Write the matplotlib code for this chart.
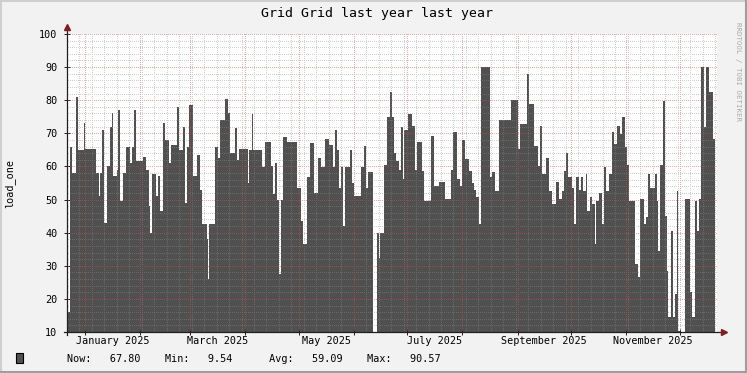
import numpy as np
import matplotlib.pyplot as plt
from matplotlib.lines import Line2D
from matplotlib.patches import Rectangle

# ---------------------------------------------------------------------------
# Data read off the rrdtool "last year" graph (days since 2024-12-22)
# ---------------------------------------------------------------------------
START = np.datetime64("2024-12-22")
SPAN_DAYS = 365.0
END_DAY = 363.8

days = [
    0.0, 1.9, 2.6, 5.3, 6.2, 9.5, 10.3, 16.1, 17.8, 18.5, 19.5, 20.6, 22.3, 23.9,
    25.1, 26.0, 27.9, 28.8, 29.6, 31.4, 33.1, 35.2, 36.3, 37.8, 38.6, 42.8, 44.2,
    45.8, 46.6, 47.5, 50.0, 51.3, 52.4, 53.8, 55.3, 57.2, 58.2, 61.7, 62.9, 65.1,
    66.4, 67.6, 68.7, 70.5, 72.8, 74.7, 75.6, 78.4, 79.2, 79.9, 82.9, 85.0, 86.1,
    89.0, 90.4, 91.5, 94.5, 95.4, 96.8, 101.4, 102.4, 103.7, 104.4, 109.5, 111.0,
    114.8, 115.7, 116.6, 118.0, 119.1, 120.3, 121.2, 123.7, 129.4, 131.2, 132.7,
    134.8, 136.4, 138.8, 140.9, 142.8, 144.7, 146.9, 149.4, 150.3, 151.6, 153.0,
    153.9, 154.9, 155.9, 158.7, 160.2, 161.4, 165.3, 166.6, 167.7, 169.3, 171.6,
    174.0, 175.0, 175.9, 177.8, 179.7, 181.2, 182.5, 183.5, 184.8, 186.6, 187.3,
    188.4, 189.2, 191.5, 193.5, 195.6, 196.5, 199.2, 200.7, 204.5, 206.2, 208.9,
    212.2, 215.7, 216.5, 218.8, 220.5, 221.6, 223.5, 225.7, 227.3, 228.5, 229.7,
    231.4, 232.7, 237.5, 238.8, 240.3, 242.4, 249.2, 253.0, 254.1, 258.5, 259.6,
    262.0, 264.5, 265.4, 266.7, 269.1, 270.4, 272.3, 274.6, 276.3, 277.8, 279.1,
    280.4, 281.4, 283.3, 284.6, 285.9, 287.5, 288.6, 289.7, 291.2, 292.1, 293.7,
    295.0, 296.5, 297.1, 298.7, 300.2, 301.5, 302.8, 304.3, 305.8, 307.1, 309.0,
    310.3, 311.8, 313.2, 314.4, 315.7, 318.9, 320.4, 321.5, 323.8, 325.1, 326.4,
    327.4, 330.2, 331.1, 332.0, 332.9, 334.4, 335.9, 336.7, 337.4, 338.9, 340.1,
    341.2, 342.3, 343.2, 344.1, 347.0, 349.9, 351.2, 352.5, 353.6, 354.9, 356.2,
    357.7, 359.0, 360.5, 362.8,
]
load_one = [
    16, 66, 58, 81, 65, 73, 65.3, 58, 51, 58, 71, 43, 60, 72,
    76, 57, 59, 77, 49.5, 58, 66, 61, 66, 77, 61.5, 63, 59,
    48, 40, 57.7, 51, 57, 46.5, 73, 68, 61, 66.5, 78, 65, 72,
    49, 66, 78.5, 57, 63.5, 53, 42.5, 38, 26, 42.5, 66, 62.5, 74,
    80.5, 76, 64, 71.5, 62, 65.3, 55, 65, 75.8, 65, 59.7, 67.3,
    60, 51.7, 61, 50, 27.5, 50, 68.8, 67.5, 53.6, 43.5, 36.5,
    56.7, 67, 52, 62.7, 59.7, 68.3, 66.5, 59.7, 71, 65, 53.6,
    59.7, 42, 59.7, 65, 55, 51.2, 59.7, 66.2, 53.6, 58.2, np.nan,
    40, 32.5, 40, 60.4, 74.8, 82.4, 75, 64.2, 61.6, 59, 72,
    56.2, 71, 75.8, 72.3, 59, 67.3, 58.7, 49.6, 69.3, 54, 55.2,
    50.1, 59, 70.3, 56.2, 54, 68, 62.2, 58.5, 55, 53, 50.7,
    42.6, 90, 56.7, 58.2, 52.7, 74, 80, 65.3, 72.8, 88, 79,
    66.2, 60, 72.3, 57.7, 62.7, 52.7, 48.6, 55.2, 50.1, 52.7, 58.7,
    64.2, 56.7, 53.6, 42.6, 56.7, 53, 56.7, 52.7, 57.7, 46.6, 50.7,
    48.6, 36.6, 49.6, 52, 42.6, 59.7, 52.7, 57.7, 70.3, 66.8, 72.3,
    69.8, 74.8, 66, 60.4, 49.6, 30.5, 26.5, 50.1, 42.6, 44.6, 57.7,
    53.6, 57.7, 49.6, 34.6, 60.4, 79.9, 45, 28.5, 14.4, 40.4, 14.4,
    21.4, 52.7, 10.4, 9.6, 50.1, 22, 14.4, 49.6, 40.4, 50.1, 90,
    72, 90, 82.4, 68.3,
]

label_months = ["2025-01", "2025-03", "2025-05", "2025-07", "2025-09", "2025-11"]
label_texts = ["January 2025", "March 2025", "May 2025", "July 2025",
               "September 2025", "November 2025"]

stat_names = ["Now", "Min", "Avg", "Max"]
stat_values = [67.80, 9.54, 59.09, 90.57]

# rrdtool default colours
BACK = "#F2F2F2"
SHADE_A = "#CFCFCF"
SHADE_B = "#9E9E9E"
GRID = (0.56, 0.56, 0.56, 0.42)
MGRID = (0.87, 0.31, 0.31, 0.48)
ARROW = "#801F1F"
AXIS = "#1F1F1F"
AREA = "#505050"
MONO = "DejaVu Sans Mono"
FS = 7.3

W, H = 747, 373
PX, PY = 67, 41              # plot area origin in pixels (from bottom-left)
PW, PH = 650, 298            # plot area size in pixels
fig = plt.figure(figsize=(W / 100, H / 100), dpi=100, facecolor=BACK)
ax = fig.add_axes([PX / W, PY / H, PW / W, PH / H])
ax.set_facecolor("white")
ax.set_xlim(0, SPAN_DAYS)
ax.set_ylim(10, 100)
for s in ax.spines.values():
    s.set_visible(False)

# --- area (step, with a gap for missing data) ---
edges = np.append(np.asarray(days, float), END_DAY)
vals = np.asarray(load_one, float)
xs = np.repeat(edges, 2)[1:-1]
ys = np.repeat(vals, 2)
ax.fill_between(xs, 0, ys, color=AREA, linewidth=0, zorder=1)

# --- dotted grid as a pixel-exact overlay (1 px on / 1 px off) ---
month_starts = np.arange(np.datetime64("2025-01"), np.datetime64("2026-01"),
                         np.timedelta64(1, "M"))
month_days = [(m.astype("datetime64[D]") - START).astype(float) for m in month_starts]
week_days = np.arange(7, SPAN_DAYS, 7)


def row_of(v):
    return min(int(round((100 - v) / 90 * PH)), PH - 1)


def col_of(d):
    return min(int(round(d / SPAN_DAYS * PW)), PW - 1)


grid_img = np.zeros((PH, PW, 4))
for v in range(12, 100, 2):
    grid_img[row_of(v), 1::2] = GRID
for d in week_days:
    grid_img[::2, col_of(d)] = GRID
for v in range(20, 101, 10):
    grid_img[row_of(v), 1::2] = MGRID
for d in month_days:
    grid_img[::2, col_of(d)] = MGRID
fig.figimage(grid_img, xo=PX, yo=PY, origin="upper", zorder=2)

# --- ticks and labels ---
ax.set_xticks(month_days)
ax.set_xticklabels([])
ax.tick_params(axis="x", length=4, direction="inout", color=AXIS, width=0.7)
ax.set_yticks(range(10, 101, 10))
ax.set_yticklabels([str(v) for v in range(10, 101, 10)], family=MONO, fontsize=FS)
ax.tick_params(axis="y", length=4, direction="inout", color=AXIS, width=0.7, pad=5)

for m, txt in zip(label_months, label_texts):
    m0 = np.datetime64(m).astype("datetime64[D]")
    m1 = (np.datetime64(m) + np.timedelta64(1, "M")).astype("datetime64[D]")
    mid = ((m0 - START).astype(float) + (m1 - START).astype(float)) / 2
    ax.text(mid, -9 / PH, txt, transform=ax.get_xaxis_transform(),
            ha="center", va="center", family=MONO, fontsize=FS)

# --- axes with arrows ---
ax.add_line(Line2D([0, 0], [-0.01, 1.02], transform=ax.transAxes, color=AXIS,
                   lw=0.9, clip_on=False, zorder=4))
ax.add_line(Line2D([-0.005, 1.008], [0, 0], transform=ax.transAxes, color=AXIS,
                   lw=0.9, clip_on=False, zorder=4))
ax.plot([0], [1.025], marker="^", ms=4.5, color=ARROW, transform=ax.transAxes,
        clip_on=False, zorder=5)
ax.plot([1.011], [0], marker=">", ms=4.5, color=ARROW, transform=ax.transAxes,
        clip_on=False, zorder=5)

# --- texts around the plot ---
fig.text(376.5 / W, 1 - 14 / H, "Grid Grid last year last year", ha="center",
         va="center", family=MONO, fontsize=9.5)
fig.text(10 / W, 1 - 184 / H, "load_one", rotation=90, ha="center", va="center",
         family=MONO, fontsize=FS)
fig.text(738 / W, 1 - 22 / H, "RRDTOOL / TOBI OETIKER", rotation=270, ha="center",
         va="top", family=MONO, fontsize=5.3, color="#AAAAAA")

legend = "{}: {:7.2f}    {}: {:6.2f}      {}: {:7.2f}    {}: {:7.2f}".format(
    stat_names[0], stat_values[0], stat_names[1], stat_values[1],
    stat_names[2], stat_values[2], stat_names[3], stat_values[3])
fig.text(67 / W, 1 - 359 / H, legend, ha="left", va="center", family=MONO, fontsize=FS)
fig.add_artist(Rectangle((16 / W, 1 - 363 / H), 7 / W, 10 / H, transform=fig.transFigure,
                         facecolor=AREA, edgecolor="black", lw=0.8))

# --- 3D shade border ---
fig.add_artist(Line2D([0, 1], [1 - 1 / H, 1 - 1 / H], transform=fig.transFigure,
                      color=SHADE_A, lw=1.5))
fig.add_artist(Line2D([1 / W, 1 / W], [0, 1], transform=fig.transFigure,
                      color=SHADE_A, lw=1.5))
fig.add_artist(Line2D([0, 1], [1 / H, 1 / H], transform=fig.transFigure,
                      color=SHADE_B, lw=1.5))
fig.add_artist(Line2D([1 - 1 / W, 1 - 1 / W], [0, 1], transform=fig.transFigure,
                      color=SHADE_B, lw=1.5))

fig.savefig("out.png", dpi=100, facecolor=BACK)
